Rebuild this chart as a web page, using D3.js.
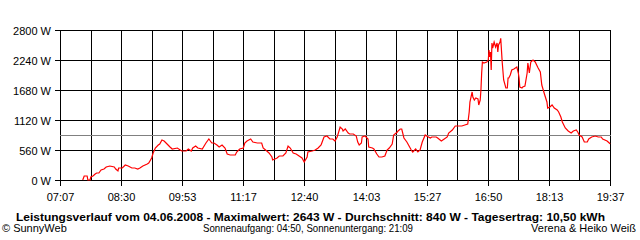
<!DOCTYPE html>
<html>
<head>
<meta charset="utf-8">
<script src="https://cdn.jsdelivr.net/npm/d3@7"></script>
<style>
  body { margin: 0; background: #fff; }
  text { font-family: "Liberation Sans", Arial, sans-serif; fill: #000; }
</style>
</head>
<body>
<script>
// tick labels
var timeLabels = ["07:07", "08:30", "09:53", "11:17", "12:40", "14:03", "15:27", "16:50", "18:13", "19:37"];
var wattTicks = [0, 560, 1120, 1680, 2240, 2800];
var average = 840;

// readings (time, watts)
var times = ["07:38","07:40","07:44","07:45","07:48","07:49","07:52","07:55","07:57","08:00",
  "08:03","08:07","08:10","08:15","08:21","08:23","08:26","08:27","08:32","08:36",
  "08:40","08:45","08:49","08:53","08:56","09:00","09:06","09:08","09:12","09:14",
  "09:17","09:21","09:23","09:26","09:29","09:33","09:37","09:40","09:47","09:53",
  "09:59","10:02","10:06","10:08","10:12","10:15","10:21","10:26","10:30","10:34",
  "10:37","10:41","10:44","10:48","10:52","10:55","10:59","11:06","11:08","11:12",
  "11:17","11:19","11:22","11:27","11:30","11:36","11:42","11:44","11:49","11:52",
  "11:56","11:57","12:03","12:06","12:11","12:15","12:18","12:21","12:25","12:29",
  "12:31","12:37","12:40","12:44","12:45","12:51","12:55","12:59","13:03","13:04",
  "13:07","13:11","13:15","13:19","13:22","13:25","13:29","13:32","13:33","13:36",
  "13:40","13:42","13:47","13:51","13:53","13:55","13:58","13:59","14:03","14:07",
  "14:08","14:13","14:15","14:19","14:22","14:26","14:30","14:33","14:36","14:40",
  "14:42","14:47","14:48","14:51","14:53","14:56","15:00","15:03","15:06","15:08",
  "15:12","15:15","15:18","15:21","15:25","15:27","15:32","15:34","15:40","15:42",
  "15:47","15:51","15:55","15:57","16:02","16:06","16:15","16:19","16:23","16:25",
  "16:26","16:29","16:30","16:32","16:34","16:37","16:38","16:40","16:41","16:42",
  "16:43","16:45","16:49","16:51","16:52","16:53","16:54","16:55","16:56","16:57",
  "16:59","17:01","17:03","17:04","17:05","17:07","17:08","17:10","17:12","17:15",
  "17:17","17:18","17:19","17:21","17:23","17:26","17:30","17:32","17:33","17:34",
  "17:37","17:38","17:41","17:44","17:45","17:47","17:49","17:52","17:55","17:57",
  "17:59","18:02","18:04","18:06","18:08","18:11","18:12","18:15","18:18","18:21",
  "18:25","18:27","18:30","18:32","18:36","18:40","18:44","18:47","18:51","18:53",
  "18:55","18:59","19:02","19:06","19:08","19:12","19:17","19:21","19:25","19:27",
  "19:33","19:36","19:37"];
var watts = [0,75,75,0,0,56,75,112,131,131,
  187,205,243,261,243,205,168,224,224,280,
  261,224,224,205,224,261,299,317,411,504,
  597,653,672,747,728,672,616,579,597,541,
  541,579,541,597,635,597,579,691,765,691,
  691,653,616,653,597,485,467,467,523,579,
  597,691,728,765,709,691,691,597,541,504,
  429,373,411,448,448,504,635,597,504,485,
  467,411,336,429,523,541,560,597,653,691,
  803,821,765,765,728,803,989,952,915,952,
  877,859,859,821,709,653,691,803,821,765,
  616,597,579,485,429,429,448,560,597,672,
  840,896,915,952,952,784,709,635,560,523,
  579,523,560,709,840,821,784,803,803,784,
  728,765,803,877,933,1008,1008,1027,1045,1269,
  1456,1643,1549,1493,1531,1512,1400,1493,1680,1997,
  2203,2184,2203,2240,2427,2296,2389,2053,2557,2464,
  2576,2483,2557,2389,2520,2576,2643,2203,1867,1717,
  1717,1904,1904,1960,2053,2072,2109,1997,1904,1736,
  1717,1736,1755,1997,2184,1997,2203,2240,2203,2147,
  2091,2016,1773,1680,1587,1456,1344,1363,1400,1344,
  1307,1269,1176,1083,971,915,877,915,933,896,
  840,803,709,709,765,803,821,803,803,765,
  728,691,672];

var title = "Leistungsverlauf vom 04.06.2008 - Maximalwert: 2643 W - Durchschnitt: 840 W - Tagesertrag: 10,50 kWh";
var footLeft = "\u00A9 SunnyWeb";
var footMid = "Sonnenaufgang: 04:50, Sonnenuntergang: 21:09";
var footRight = "Verena & Heiko Wei\u00DF";

function toMin(s) {
  var p = s.split(":");
  return +p[0] * 60 + +p[1];
}

var width = 640;
var height = 240;
var plotLeft = 60, plotRight = 610, plotTop = 30, plotBottom = 180;

var data = times.map(function(t, i) {
  return { t: toMin(t), w: watts[i] };
});

var xScale = d3.scaleLinear()
               .domain([toMin(timeLabels[0]), toMin(timeLabels[timeLabels.length - 1])])
               .range([plotLeft, plotRight]);

var yScale = d3.scaleLinear()
               .domain([0, 2800])
               .range([plotBottom, plotTop]);

var svg = d3.select("body")
            .append("svg")
            .attr("width", width)
            .attr("height", height);

// vertical grid: one line between each labelled time too
var gridTimes = d3.range(0, 19).map(function(i) {
  return xScale.domain()[0] + i * (xScale.domain()[1] - xScale.domain()[0]) / 18;
});

svg.append("g")
   .selectAll("line")
   .data(gridTimes)
   .enter()
   .append("line")
   .attr("x1", function(d){ return Math.round(xScale(d)) + 0.5; })
   .attr("x2", function(d){ return Math.round(xScale(d)) + 0.5; })
   .attr("y1", plotTop)
   .attr("y2", function(d, i){ return i % 2 == 0 ? plotBottom + 6 : plotBottom; })
   .attr("stroke", "#000")
   .attr("shape-rendering", "crispEdges");

svg.append("g")
   .selectAll("line")
   .data(wattTicks)
   .enter()
   .append("line")
   .attr("x1", plotLeft - 5)
   .attr("x2", plotRight + 1)
   .attr("y1", function(d){ return yScale(d) + 0.5; })
   .attr("y2", function(d){ return yScale(d) + 0.5; })
   .attr("stroke", "#000")
   .attr("shape-rendering", "crispEdges");

// y labels
svg.append("g")
   .selectAll("text")
   .data(wattTicks)
   .enter()
   .append("text")
   .attr("x", 51)
   .attr("y", function(d){ return yScale(d) + 4.5; })
   .attr("text-anchor", "end")
   .attr("font-size", "11px")
   .text(function(d){ return d + " W"; });

// x labels
svg.append("g")
   .selectAll("text")
   .data(timeLabels)
   .enter()
   .append("text")
   .attr("x", function(d, i){ return Math.round(xScale(gridTimes[i * 2])) + 0.5; })
   .attr("y", 201)
   .attr("text-anchor", "middle")
   .attr("font-size", "11px")
   .text(function(d){ return d; });

// average line
svg.append("line")
   .attr("x1", plotLeft)
   .attr("x2", plotRight + 1)
   .attr("y1", Math.round(yScale(average)) + 0.5)
   .attr("y2", Math.round(yScale(average)) + 0.5)
   .attr("stroke", "#808080")
   .attr("shape-rendering", "crispEdges");

var line = d3.line()
             .x(function(d){ return xScale(d.t); })
             .y(function(d){ return yScale(d.w); });

svg.append("path")
   .datum(data)
   .attr("d", line)
   .attr("fill", "none")
   .attr("stroke", "#ff0000")
   .attr("stroke-width", 1.2);

// texts under the chart
svg.append("text")
   .attr("x", 16)
   .attr("y", 221)
   .attr("font-size", "11px")
   .attr("font-weight", "bold")
   .attr("textLength", 589)
   .attr("lengthAdjust", "spacingAndGlyphs")
   .text(title);

svg.append("text")
   .attr("x", 2)
   .attr("y", 232)
   .attr("font-size", "11px")
   .text(footLeft);

svg.append("text")
   .attr("x", 203)
   .attr("y", 232)
   .attr("font-size", "11px")
   .attr("textLength", 210)
   .attr("lengthAdjust", "spacingAndGlyphs")
   .text(footMid);

svg.append("text")
   .attr("x", 636)
   .attr("y", 232)
   .attr("font-size", "11px")
   .attr("text-anchor", "end")
   .text(footRight);
</script>
</body>
</html>
